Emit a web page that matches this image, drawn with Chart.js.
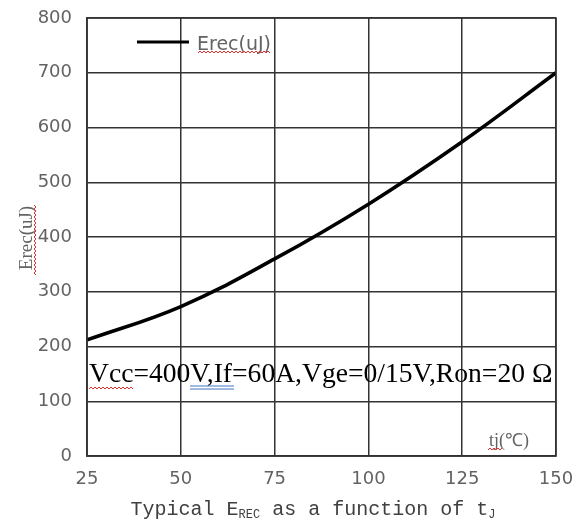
<!DOCTYPE html>
<html>
<head>
<meta charset="utf-8">
<script src="https://cdn.jsdelivr.net/npm/chart.js@4/dist/chart.umd.min.js"></script>
<style>
  html, body { margin: 0; padding: 0; background: #fff; }
  #wrap { width: 585px; height: 521px; }
</style>
</head>
<body>
<div id="wrap"><canvas id="erecChart" width="585" height="521"></canvas></div>
<script>
// datos
var temperaturas = [25, 50, 75, 100, 125, 150];
var erec = [212, 273, 360, 460, 574, 700];
var ticksX = [25, 50, 75, 100, 125, 150];
var ticksY = [0, 100, 200, 300, 400, 500, 600, 700, 800];

var puntos = temperaturas.map(function (t, i) { return { x: t, y: erec[i] }; });

// subrayado ondulado (corrector ortografico de la imagen original)
function ondulado(ctx, x1, x2, y, color) {
    ctx.save();
    ctx.strokeStyle = color;
    ctx.lineWidth = 1;
    ctx.beginPath();
    var sube = true;
    ctx.moveTo(x1, y);
    for (var x = x1 + 2; x <= x2; x += 2) {
        ctx.lineTo(x, sube ? y - 2 : y);
        sube = !sube;
    }
    ctx.stroke();
    ctx.restore();
}

// textos y leyenda dibujados encima
var textos = {
    id: 'textos',
    afterDraw: function (chart) {
        var ctx = chart.ctx;
        ctx.save();

        // leyenda
        ctx.strokeStyle = '#000';
        ctx.lineWidth = 3;
        ctx.beginPath();
        ctx.moveTo(137, 42);
        ctx.lineTo(189, 42);
        ctx.stroke();
        ctx.fillStyle = '#636363';
        ctx.font = '19px "DejaVu Sans"';
        ctx.textBaseline = 'alphabetic';
        ctx.textAlign = 'left';
        ctx.fillText('Erec(uJ)', 197, 50);
        ondulado(ctx, 198, 270, 53, '#e03030');

        // condiciones
        ctx.fillStyle = '#000';
        ctx.font = '27.6px "Liberation Serif"';
        ctx.fillText('Vcc=400V,If=60A,Vge=0/15V,Ron=20 Ω', 89, 382);
        ondulado(ctx, 89, 133, 389, '#e03030');
        ctx.strokeStyle = '#4472c4';
        ctx.lineWidth = 1;
        ctx.beginPath();
        ctx.moveTo(190, 386); ctx.lineTo(234, 386);
        ctx.moveTo(190, 389); ctx.lineTo(234, 389);
        ctx.stroke();

        // tj
        ctx.fillStyle = '#636363';
        ctx.font = '18px "Liberation Serif"';
        ctx.fillText('tj(℃)', 489, 446);
        ondulado(ctx, 488, 502, 450, '#e03030');

        // titulo eje y
        ctx.save();
        ctx.translate(32, 238);
        ctx.rotate(-Math.PI / 2);
        ctx.textAlign = 'center';
        ctx.fillStyle = '#636363';
        ctx.font = '19px "Liberation Serif"';
        ctx.fillText('Erec(uJ)', 0, 0);
        ctx.restore();
        ctx.save();
        ctx.translate(36, 275);
        ctx.rotate(-Math.PI / 2);
        ondulado(ctx, 0, 70, 0, '#e03030');
        ctx.restore();

        // titulo eje x con subindices
        ctx.fillStyle = '#404040';
        ctx.textAlign = 'left';
        var partes = [['Typical E', 20, 0], ['REC', 12, 3], [' as a function of t', 20, 0], ['J', 12, 3]];
        var ancho = 0;
        partes.forEach(function (p) {
            ctx.font = p[1] + 'px "Liberation Mono"';
            ancho += ctx.measureText(p[0]).width;
        });
        var x = 313 - ancho / 2;
        partes.forEach(function (p) {
            ctx.font = p[1] + 'px "Liberation Mono"';
            ctx.fillText(p[0], x, 515 + p[2]);
            x += ctx.measureText(p[0]).width;
        });
        ctx.restore();
    }
};

var ctx = document.getElementById('erecChart').getContext('2d');
var erecChart = new Chart(ctx, {
    type: 'line',
    data: {
        datasets: [{
            label: 'Erec(uJ)',
            data: puntos,
            borderColor: '#000',
            borderWidth: 3.5,
            pointRadius: 0,
            fill: false,
            tension: 0.4
        }]
    },
    options: {
        responsive: false,
        animation: false,
        layout: { padding: { top: 18, right: 29, left: 0, bottom: 0 } },
        plugins: { legend: { display: false }, tooltip: { enabled: false } },
        scales: {
            x: {
                type: 'linear',
                min: 25,
                max: 150,
                afterBuildTicks: function (axis) { axis.ticks = ticksX.map(function (v) { return { value: v }; }); },
                afterFit: function (axis) { axis.height = 65; axis.paddingLeft = 0; axis.paddingRight = 0; },
                grid: { color: '#333', lineWidth: 1.5, drawTicks: false },
                border: { color: '#333', width: 1.5 },
                ticks: { color: '#636363', font: { family: 'DejaVu Sans', size: 18 }, padding: 13, maxRotation: 0 }
            },
            y: {
                min: 0,
                max: 800,
                afterBuildTicks: function (axis) { axis.ticks = ticksY.map(function (v) { return { value: v }; }); },
                afterFit: function (axis) { axis.width = 87; axis.paddingTop = 0; axis.paddingBottom = 0; },
                grid: { color: '#333', lineWidth: 1.5, drawTicks: false },
                border: { color: '#333', width: 1.5 },
                ticks: { color: '#636363', font: { family: 'DejaVu Sans', size: 18 }, padding: 15 }
            }
        }
    },
    plugins: [textos, {
        id: 'marco',
        afterDatasetsDraw: function (chart) {
            var a = chart.chartArea, c = chart.ctx;
            c.save();
            c.strokeStyle = '#333';
            c.lineWidth = 1.5;
            c.strokeRect(a.left, a.top, a.right - a.left, a.bottom - a.top);
            c.restore();
        }
    }]
});
</script>
</body>
</html>
